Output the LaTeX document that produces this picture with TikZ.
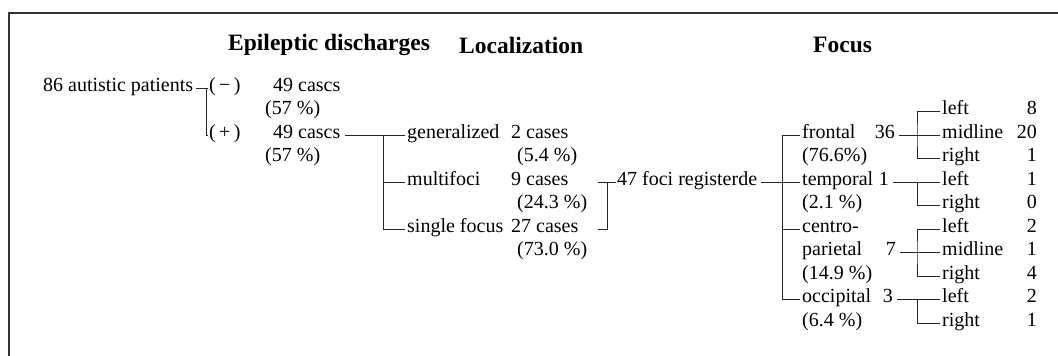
\documentclass[tikz,border=0pt]{standalone}
\usepackage{fontspec}
\setmainfont{Liberation Serif}
\usetikzlibrary{calc}
\begin{document}
\begin{tikzpicture}[x=1pt,y=-1pt,
  txt/.style={inner sep=0pt, text height=0.9em, text depth=0.25em, anchor=west, font=\fontsize{20}{24}\selectfont},
  num/.style={txt, anchor=east},
  ttl/.style={inner sep=0pt, anchor=west, font=\fontsize{23.5}{27}\selectfont\bfseries},
  ln/.style={line width=0.8pt, black!85},
  frame/.style={line width=1.5pt, black!80}]
\useasboundingbox (0,0) rectangle (1058,356);
\draw[frame] (9,356) -- (9,13) -- (1058,13);
% titles
\node[ttl] (t1) at (228,45) {Epileptic discharges};
\node[ttl] (t2) at (459,45) {Localization};
\node[ttl] (t3) at (813,45) {Focus};
% left column
\node[txt] (pat) at (43,88) {86 autistic patients};
\node[txt] (neg) at (209,88) {(\,−\,)};
\node[txt] (negc) at (273,88) {49 cascs};
\node[txt] (negp) at (265,111.5) {(57 \%)};
\node[txt] (pos) at (209,135) {(\,+\,)};
\node[txt] (posc) at (273,135) {49 cascs};
\node[txt] (posp) at (265,158.5) {(57 \%)};
\coordinate (j1) at (206,88);
\draw[ln] ([xshift=3pt]pat.east) -- ([xshift=-1pt]neg.west);
\draw[ln] (j1) |- ([xshift=-1pt]pos.west);
% localization
\node[txt] (gen) at (407,135) {generalized};
\node[txt] (genc) at (511,135) {2 cases};
\node[txt] (genp) at (517,158.5) {(5.4 \%)};
\node[txt] (mul) at (407,182) {multifoci};
\node[txt] (mulc) at (511,182) {9 cases};
\node[txt] (mulp) at (517,205.5) {(24.3 \%)};
\node[txt] (sin) at (407,229) {single focus};
\node[txt] (sinc) at (511,229) {27 cases};
\node[txt] (sinp) at (517,252.5) {(73.0 \%)};
\coordinate (j2) at (383,135);
\draw[ln] ([xshift=4pt]posc.east) -- ([xshift=-2pt]gen.west);
\draw[ln] (j2) |- ([xshift=-2pt]sin.west);
\draw[ln] (j2 |- mul.west) -- ([xshift=-2pt]mul.west);
% bracket to foci
\node[txt] (foci) at (617,182) {47 foci registerde};
\coordinate (bt) at (598,182);
\coordinate (bj) at (607,182);
\coordinate (bb) at (598,229);
\draw[ln] (bt) -- ([xshift=-1pt]foci.west);
\draw[ln] (bj) |- (bb);
% focus column
\node[txt] (fro) at (802,135) {frontal};
\node[num] (fron) at (895,135) {36};
\node[txt] (frop) at (802,158.5) {(76.6\%)};
\node[txt] (tem) at (802,182) {temporal};
\node[num] (temn) at (889,182) {1};
\node[txt] (temp) at (802,205.5) {(2.1 \%)};
\node[txt] (cen) at (802,229) {centro-};
\node[txt] (par) at (802,252.5) {parietal};
\node[num] (parn) at (896,252.5) {7};
\node[txt] (cenp) at (802,276) {(14.9 \%)};
\node[txt] (occ) at (802,299.5) {occipital};
\node[num] (occn) at (893,299.5) {3};
\node[txt] (occp) at (802,323) {(6.4 \%)};
\coordinate (j3) at (782,135);
\draw[ln] ([xshift=4pt]foci.east) -- ([xshift=-2pt]tem.west);
\draw[ln] ([xshift=-2pt]fro.west) -| (j3) |- ([xshift=-2pt]occ.west);
\draw[ln] (j3 |- cen.west) -- ([xshift=-2pt]cen.west);
% side column
\node[txt] (fl) at (942,111.5) {left};   \node[num] (fln) at (1037,111.5) {8};
\node[txt] (fm) at (942,135) {midline};  \node[num] (fmn) at (1037,135) {20};
\node[txt] (fr) at (942,158.5) {right};  \node[num] (frn) at (1037,158.5) {1};
\node[txt] (tl) at (942,182) {left};     \node[num] (tln) at (1037,182) {1};
\node[txt] (tr) at (942,205.5) {right};  \node[num] (trn) at (1037,205.5) {0};
\node[txt] (cl) at (942,229) {left};     \node[num] (cln) at (1037,229) {2};
\node[txt] (cm) at (942,252.5) {midline};\node[num] (cmn) at (1037,252.5) {1};
\node[txt] (cr) at (942,276) {right};    \node[num] (crn) at (1037,276) {4};
\node[txt] (ol) at (942,299.5) {left};   \node[num] (oln) at (1037,299.5) {2};
\node[txt] (or) at (942,323) {right};    \node[num] (orn) at (1037,323) {1};
\coordinate (s1) at (917,135);
\coordinate (s2) at (917,182);
\coordinate (s3) at (917,252.5);
\coordinate (s4) at (917,299.5);
\draw[ln] ([xshift=4pt]fron.east) -- ([xshift=-2pt]fm.west);
\draw[ln] ([xshift=-2pt]fl.west) -| (s1) |- ([xshift=-2pt]fr.west);
\draw[ln] ([xshift=4pt]temn.east) -- ([xshift=-2pt]tl.west);
\draw[ln] (s2) |- ([xshift=-2pt]tr.west);
\draw[ln] ([xshift=4pt]parn.east) -- ([xshift=-2pt]cm.west);
\draw[ln] ([xshift=-2pt]cl.west) -| (s3) |- ([xshift=-2pt]cr.west);
\draw[ln] ([xshift=4pt]occn.east) -- ([xshift=-2pt]ol.west);
\draw[ln] (s4) |- ([xshift=-2pt]or.west);
\end{tikzpicture}
\end{document}
